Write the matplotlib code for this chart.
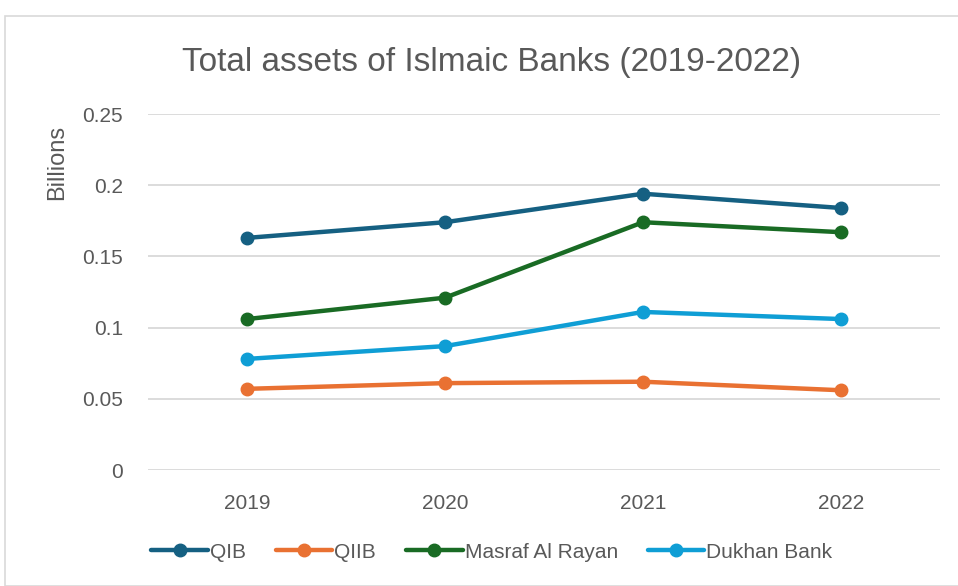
import matplotlib
matplotlib.use("Agg")
import matplotlib.pyplot as plt
from matplotlib.patches import Rectangle

years = ["2019", "2020", "2021", "2022"]
qib = [0.163, 0.174, 0.194, 0.184]
qiib = [0.057, 0.061, 0.062, 0.056]
masraf = [0.106, 0.121, 0.174, 0.167]
dukhan = [0.078, 0.087, 0.111, 0.106]
series_names = ["QIB", "QIIB", "Masraf Al Rayan", "Dukhan Bank"]
colors = ["#156082", "#E97132", "#196B24", "#0F9ED5"]
yticks = [0, 0.05, 0.1, 0.15, 0.2, 0.25]
ytick_labels = ["0", "0.05", "0.1", "0.15", "0.2", "0.25"]

plt.rcParams["font.family"] = ["Liberation Sans", "DejaVu Sans"]

fig = plt.figure(figsize=(9.58, 5.86), dpi=100)
fig.patches.append(Rectangle((5/958, 0), 1.2, (586-16)/586, transform=fig.transFigure,
                             fill=False, edgecolor="#D9D9D9", linewidth=1.2))

ax = fig.add_axes([148/958, 1-470/586, (940-148)/958, (470-114)/586])
x = list(range(len(years)))
for vals, name, c in zip([qib, qiib, masraf, dukhan], series_names, colors):
    ax.plot(x, vals, color=c, lw=3.2, marker="o", markersize=9, label=name,
            solid_capstyle="round")

ax.set_xlim(-0.5, len(years) - 0.5)
ax.set_ylim(0, 0.25)
ax.set_yticks(yticks)
ax.set_yticklabels(ytick_labels)
ax.set_xticks(x)
ax.set_xticklabels(years)
ax.tick_params(axis="both", length=0, labelsize=15, colors="#595959")
ax.tick_params(axis="y", pad=18)
ax.tick_params(axis="x", pad=17)
ax.grid(axis="y", color="#D9D9D9", lw=1.3)
ax.set_axisbelow(True)
for s in ax.spines.values():
    s.set_visible(False)

fig.text(57/958, 1-162/586, "Billions", rotation=90, ha="center", va="center",
         fontsize=17, color="#595959")
fig.text(492/958, 1-62/586, "Total assets of Islmaic Banks (2019-2022)", ha="center",
         va="center", fontsize=24, color="#595959")

leg = fig.legend(loc="center", bbox_to_anchor=(492/958, 1-552/586), ncol=4, frameon=False,
                 fontsize=15, handlelength=2.7, handletextpad=0.1, columnspacing=1.45,
                 labelcolor="#595959")

fig.savefig("out.png", dpi=100)
